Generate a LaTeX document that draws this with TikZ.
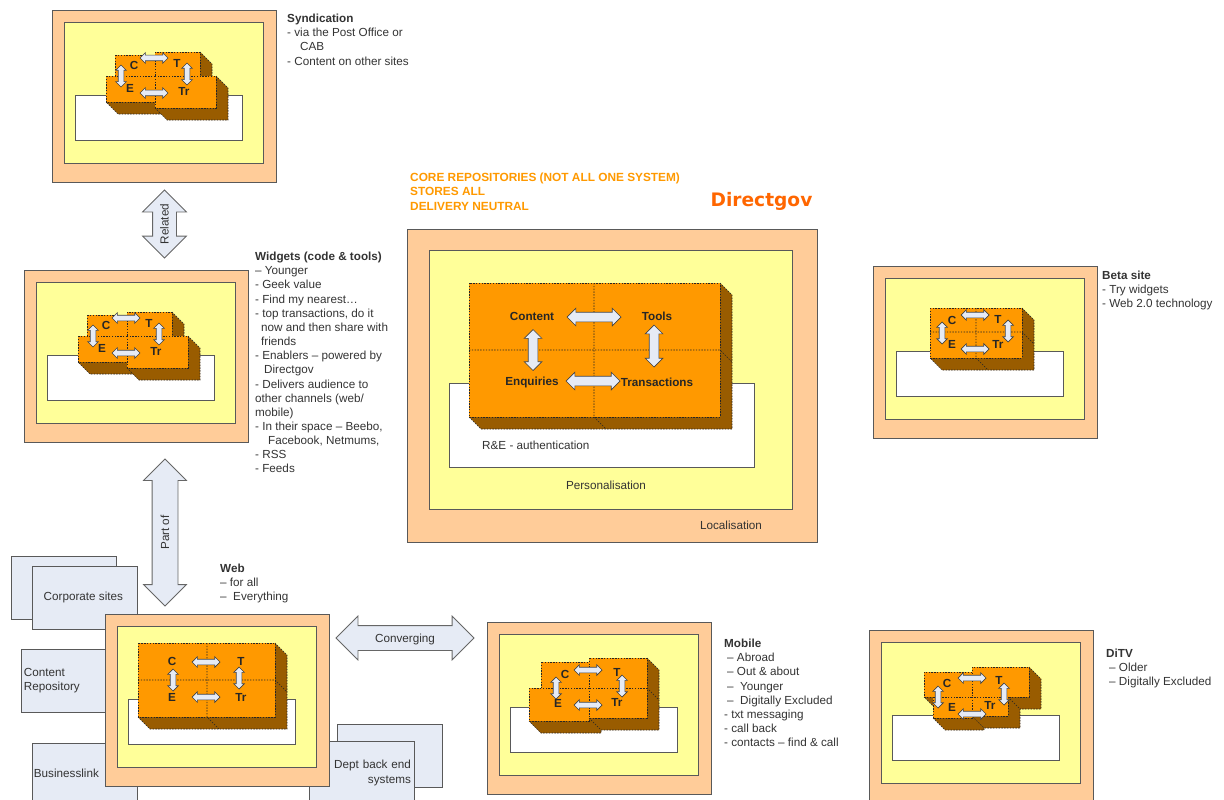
\documentclass[tikz,border=0pt]{standalone}
\usepackage{fontspec}
\setmainfont{Liberation Sans}
\usetikzlibrary{shapes.arrows}
\definecolor{outerpeach}{HTML}{FFCC99}
\definecolor{inneryellow}{HTML}{FFFF99}
\definecolor{brickorange}{HTML}{FF9900}
\definecolor{brickside}{HTML}{995C00}
\definecolor{arrowblue}{HTML}{E6EBF5}
\definecolor{framegray}{HTML}{595959}
\definecolor{logored}{HTML}{FF6600}
\tikzset{
  every node/.style={font=\fontsize{11.7}{14.15}\selectfont, text=black!80, inner sep=0pt},
  framebox/.style={draw=framegray, line width=0.9pt},
  brickline/.style={draw=black!85, line width=0.65pt, dash pattern=on 1.4pt off 1.4pt},
  sidebox/.style={draw=framegray, line width=0.8pt, fill=arrowblue},
  notes/.style={anchor=north west, align=left},
  bigarrow/.style={double arrow, draw=black!60, line width=0.8pt, fill=arrowblue,
    double arrow tip angle=90, text height=11pt, text depth=3pt},
  smallarrow/.style={double arrow, draw=black!75, line width=0.7pt, fill=arrowblue,
    inner ysep=2.5pt, double arrow head extend=2.5pt},
  corearrow/.style={smallarrow, inner ysep=4.5pt, double arrow head extend=4pt},
  brickletter/.style={font=\fontsize{11.7}{14}\selectfont\bfseries, text=black!85}
}
\newcommand{\channel}{% frame of one channel, local origin at its top left corner
  \draw[framebox, fill=outerpeach] (0,0) rectangle (224,172);
  \draw[framebox, fill=inneryellow] (12,12) rectangle (211,153);
  \draw[framebox, fill=white] (23,85) rectangle (190,130);
}
\newcommand{\brick}[4]{% block with its side faces, depth 12
  \fill[brickside] (#3,#2) -- ({#3+12},{#2+12}) -- ({#3+12},{#4+12}) -- ({#1+12},{#4+12})
    -- (#1,#4) -- cycle;
  \draw[brickline] (#3,#2) -- ({#3+12},{#2+12}) -- ({#3+12},{#4+12}) -- ({#1+12},{#4+12})
    -- (#1,#4);
  \draw[brickline, fill=brickorange] (#1,#2) rectangle (#3,#4);
}
\newcommand{\brickgrid}[6]{% split of a single block, mid lines at x=#5 and y=#6
  \draw[brickline] (#5,#2) -- (#5,#4) -- ({#5+12},{#4+12});
  \draw[brickline] (#1,#6) -- (#3,#6) -- ({#3+12},{#6+12});
}
\newcommand{\letters}[5]{% C, T, E, Tr
  \node[brickletter] (#1c) at (#2) {C};
  \node[brickletter] (#1t) at (#3) {T};
  \node[brickletter] (#1e) at (#4) {E};
  \node[brickletter] (#1r) at (#5) {Tr};
}
\newcommand{\links}[5]{% top, bottom, left, right arrow
  \node[smallarrow, minimum height=28pt] (#1top) at (#2) {};
  \node[smallarrow, minimum height=28pt] (#1bot) at (#3) {};
  \node[smallarrow, minimum height=22pt, rotate=90] (#1lft) at (#4) {};
  \node[smallarrow, minimum height=22pt, rotate=90] (#1rgt) at (#5) {};
}
\newcommand{\fourbricks}{% layout shared by Syndication and Widgets
  \brick{63}{45}{103}{66}
  \brick{103}{42}{148}{66}
  \brick{54}{66}{103}{92}
  \brick{103}{66}{164}{98}
}
\begin{document}
\begin{tikzpicture}[x=1pt,y=-1pt]
  \useasboundingbox (0,0) rectangle (1224,800);
  % Syndication
  \begin{scope}[shift={(52,10)}]
    \channel
    \fourbricks
    \letters{syn}{82,55}{125,53}{78,78}{132,81}
    \links{syn}{102,48}{102,83}{69,66}{135,64}
  \end{scope}
  \node[notes] (syntext) at (287,14) {\textbf{Syndication}\\- via the Post Office or\\\hspace*{13pt}CAB\\- Content on other sites};
  % Widgets
  \begin{scope}[shift={(24,270)}]
    \channel
    \fourbricks
    \letters{wid}{82,55}{125,53}{78,78}{132,81}
    \links{wid}{102,48}{102,83}{69,66}{135,64}
  \end{scope}
  \node[notes] (widtext) at (255,252) {\textbf{Widgets (code \& tools)}\\– Younger\\- Geek value\\- Find my nearest…\\- top transactions, do it\\\hspace*{6pt}now and then share with\\\hspace*{6pt}friends\\- Enablers – powered by\\\hspace*{9pt}Directgov\\- Delivers audience to\\other channels (web/\\mobile)\\- In their space – Beebo,\\\hspace*{13pt}Facebook, Netmums,\\- RSS\\- Feeds};
  % big arrows
  \node[bigarrow, rotate=90, minimum height=68pt, inner ysep=4.5pt, double arrow head extend=10pt] (related) at (164.5,224) {Related};
  \node[bigarrow, rotate=90, minimum height=147pt, inner ysep=5.5pt, double arrow head extend=8.5pt] (partof) at (165,532.5) {Part of};
  \node[bigarrow, minimum height=138pt, inner ysep=5pt, double arrow head extend=9.5pt] (converging) at (405,638) {Converging};
  % core repositories
  \node[notes, text=brickorange, font=\fontsize{11.85}{14.15}\selectfont\bfseries] (coretext) at (410,173) {CORE REPOSITORIES (NOT ALL ONE SYSTEM)\\STORES ALL\\DELIVERY NEUTRAL};
  \node[anchor=center, text=logored, font=\fontsize{18.6}{18}\fontspec{DejaVu Sans}\bfseries] (logo) at (761.5,201) {Directgov};
  \draw[framebox, fill=outerpeach] (407,229) rectangle (817,542);
  \draw[framebox, fill=inneryellow] (429,250) rectangle (792,509);
  \draw[framebox, fill=white] (449,383) rectangle (754,467);
  \brick{469}{283}{720}{417}
  \brickgrid{469}{283}{720}{417}{594}{350}
  \node[brickletter] (content) at (532,316) {Content};
  \node[brickletter] (tools) at (657,316) {Tools};
  \node[brickletter] (enquiries) at (532,382) {Enquiries};
  \node[brickletter] (transactions) at (657,382) {Transactions};
  \node[corearrow, minimum height=54pt] (coretop) at (594,317) {};
  \node[corearrow, minimum height=54pt] (corebot) at (593,381) {};
  \node[corearrow, minimum height=41pt, rotate=90] (corelft) at (533,350) {};
  \node[corearrow, minimum height=42pt, rotate=90] (corergt) at (654,346) {};
  \node[anchor=west] (auth) at (482,445) {R\&E - authentication};
  \node (personal) at (606,485) {Personalisation};
  \node (local) at (731,525) {Localisation};
  % Beta site
  \begin{scope}[shift={(873,266)}]
    \channel
    \brick{57}{42}{149}{92}
    \brickgrid{57}{42}{149}{92}{103}{66}
    \letters{bet}{79,54}{125,53}{79,78}{125,78}
    \links{bet}{102,49}{102,83}{69,67}{135,65}
  \end{scope}
  \node[notes] (bettext) at (1102,271) {\textbf{Beta site}\\- Try widgets\\- Web 2.0 technology};
  % systems round Web
  \draw[sidebox] (11,556) rectangle (116,619);
  \node[sidebox, minimum width=105pt, minimum height=63pt, anchor=north west] (corporate) at (32,566) {\hspace*{-3pt}Corporate sites};
  \node[sidebox, minimum width=106pt, minimum height=63pt, anchor=north west, align=left, text width=101pt] (repository) at (21,649) {Content\\Repository};
  \node[sidebox, minimum width=105pt, minimum height=60pt, anchor=north west, text width=102pt] (business) at (32,743) {Businesslink};
  \draw[sidebox] (337,724) rectangle (442,787);
  \node[sidebox, minimum width=105pt, minimum height=63pt, anchor=north west, align=right, text width=98pt] (dept) at (309,741) {Dept back end\\systems};
  % Web
  \begin{scope}[shift={(105,614)}]
    \channel
    \brick{33}{29}{170}{103}
    \brickgrid{33}{29}{170}{103}{102}{66}
    \letters{web}{67,47}{136,47}{67,83}{136,83}
    \links{web}{101,48}{101,83}{68,66}{134,64}
  \end{scope}
  \node[notes] (webtext) at (220,564) {\textbf{Web}\\– for all\\–\ \ Everything};
  % Mobile
  \begin{scope}[shift={(487,622)}]
    \channel
    \brick{54}{40}{102}{66}
    \brick{102}{36}{160}{66}
    \brick{42}{66}{102}{99}
    \brick{102}{66}{160}{96}
    \letters{mob}{78,52}{130,50}{71,81}{130,80}
    \links{mob}{101,48}{101,83}{69,66}{135,64}
  \end{scope}
  \node[notes] (mobtext) at (724,639) {\textbf{Mobile}\\\hspace*{3pt}– Abroad\\\hspace*{3pt}– Out \& about\\\hspace*{3pt}–\ \ Younger\\\hspace*{3pt}–\ \ Digitally Excluded\\- txt messaging\\- call back\\- contacts – find \& call};
  % DiTV
  \begin{scope}[shift={(869,630)}]
    \channel
    \brick{55}{42}{103}{67}
    \brick{103}{37}{160}{67}
    \brick{64}{67}{103}{88}
    \brick{103}{67}{139}{86}
    \letters{dit}{78,53}{130,50}{83,77}{121,75}
    \links{dit}{103,48}{103,84}{69,67}{135,64}
  \end{scope}
  \node[notes] (dittext) at (1106,649) {\textbf{DiTV}\\\hspace*{3pt}– Older\\\hspace*{3pt}– Digitally Excluded};
\end{tikzpicture}
\end{document}
